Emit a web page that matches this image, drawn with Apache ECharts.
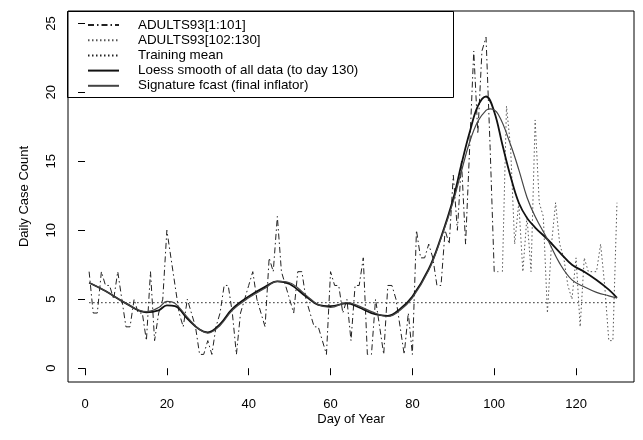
<!DOCTYPE html>
<html><head><meta charset="utf-8">
<script src="https://cdn.jsdelivr.net/npm/echarts@6/dist/echarts.min.js"></script>
<style>html,body{margin:0;padding:0;background:#fff}#c{width:643px;height:440px}</style>
</head><body><div id="c"></div>
<script>
// ---- data ----
var trainStartDay = 1;
var adults1to101 = [7,4,4,7,6,6,5,7,5,3,3,5,4,4,2,7,2,4,5,10,
  8,6,4,3,5,4,3,1,1,2,1,3,4,6,6,4,1,4,5,6,
  7,5,4,3,8,7,11,7,6,5,4,7,7,5,4,3,3,2,1,7,
  6,6,4,5,2,6,6,8,1,1,5,3,1,6,6,5,3,1,4,1,
  10,8,8,9,8,6,6,10,9,14,10,15,9,16,23,17,23,24,16,7,7];
var testStartDay = 102;
var adults102to130 = [7,19,16,9,12,7,11,7,18,12,11,4,9,12,9,8,6,5,8,3,8,7,7,7,9,6,2,2,12];
var meanDays = [1,130];
var trainingMean = 4.75;
var loessDays = [1,5,10,15,18,20,22,25,28,30,33,36,40,44,47,50,54,57,60,64,67,70,74,77,80,84,87,90,92,94,96,98,100,102,104,106,108,110,113,116,119,122,125,128,130];
var loessVals = [6.2,5.6,4.7,4.05,4.2,4.55,4.5,3.6,2.8,2.6,3.2,4.3,5.2,5.9,6.3,6.1,5.2,4.6,4.5,4.7,4.4,4.0,3.8,4.3,5.2,7.2,9.5,12.3,14.8,17.1,19.0,19.7,18.6,16.2,13.9,12.0,10.9,10.2,9.35,8.4,7.5,7.0,6.4,5.7,5.1];
var fcastDays = [1,5,10,15,18,20,22,25,28,30,33,36,40,44,47,50,54,57,60,64,67,70,74,77,80,84,87,90,92,94,96,98,99,101,104,106,108,110,113,116,119,122,125,128,130];
var fcastVals = [6.2,5.6,4.7,4.1,4.4,4.85,4.7,3.7,2.8,2.55,3.1,4.2,5.1,5.8,6.3,6.2,5.3,4.6,4.4,4.75,4.5,4.1,3.75,4.2,5.1,7.1,9.4,12.1,14.3,16.4,17.9,18.7,18.8,18.4,16.2,14.4,12.4,11.0,9.35,7.6,6.4,5.9,5.5,5.25,5.1];
var xTicks = [0,20,40,60,80,100,120];
var yTicks = [0,5,10,15,20,25];
var names = ['ADULTS93[1:101]','ADULTS93[102:130]','Training mean','Loess smooth of all data (to day 130)','Signature fcast (final inflator)'];

// ---- build ----
function pairsFrom(start, vals){ return vals.map(function(v,i){ return [start+i, v]; }); }
function zip(xs, ys){ return xs.map(function(x,i){ return [x, ys[i]]; }); }
var FONT = 'Liberation Sans, Arial, sans-serif';
var chart = echarts.init(document.getElementById('c'), null, {renderer:'canvas'});
chart.setOption({
  animation:false,
  backgroundColor:'#fff',
  grid:{left:68,right:9,top:11,bottom:58,show:true,borderColor:'#000',borderWidth:1,backgroundColor:'transparent',containLabel:false,outerBoundsMode:'none'},
  xAxis:{type:'value',min:-4.16,max:134.16,
    name:'Day of Year',nameLocation:'middle',nameGap:31,nameMoveOverlap:false,
    nameTextStyle:{fontFamily:FONT,fontSize:13,color:'#000'},
    axisLine:{show:false},splitLine:{show:false},
    axisTick:{show:true,inside:false,length:7,lineStyle:{color:'#000'},customValues:xTicks},
    axisLabel:{margin:16,fontFamily:FONT,fontSize:13,color:'#000',customValues:xTicks,formatter:function(v){return String(v);}}},
  yAxis:{type:'value',min:-1.0,max:25.9,
    name:'Daily Case Count',nameLocation:'middle',nameGap:37,nameRotate:90,nameMoveOverlap:false,
    nameTextStyle:{fontFamily:FONT,fontSize:13,color:'#000'},
    axisLine:{show:false},splitLine:{show:false},
    axisTick:{show:true,inside:false,length:7,lineStyle:{color:'#000'},customValues:yTicks},
    axisLabel:{margin:10,rotate:90,fontFamily:FONT,fontSize:13,color:'#000',customValues:yTicks,formatter:function(v){return String(v);}}},
  legend:{left:87,top:18,orient:'vertical',itemWidth:31,itemHeight:14,itemGap:1.2,padding:0,
    selectedMode:false,data:names,itemStyle:{opacity:0,borderWidth:0},
    textStyle:{fontFamily:FONT,fontSize:13.4,color:'#000',lineHeight:14,padding:[0,0,0,14]}},
  graphic:[{type:'rect',shape:{x:67.5,y:11.5,width:386,height:86},style:{fill:'transparent',stroke:'#000',lineWidth:1},z:100}],
  series:[
    {name:names[0],type:'line',symbol:'none',data:pairsFrom(trainStartDay,adults1to101),
      lineStyle:{color:'#222',width:1,type:[6,3,1.5,3]},itemStyle:{color:'#222'}},
    {name:names[1],type:'line',symbol:'none',data:pairsFrom(testStartDay,adults102to130),
      lineStyle:{color:'#555',width:1,type:[1.5,2.5]},itemStyle:{color:'#555'}},
    {name:names[2],type:'line',symbol:'none',data:meanDays.map(function(d){return [d,trainingMean];}),
      lineStyle:{color:'#222',width:1,type:[1.5,2.5]},itemStyle:{color:'#222'}},
    {name:names[3],type:'line',symbol:'none',smooth:0.4,data:zip(loessDays,loessVals),
      lineStyle:{color:'#111',width:1.8,type:'solid'},itemStyle:{color:'#111'}},
    {name:names[4],type:'line',symbol:'none',smooth:0.4,data:zip(fcastDays,fcastVals),
      lineStyle:{color:'#444',width:1.2,type:'solid'},itemStyle:{color:'#444'}}
  ]
});
</script></body></html>
